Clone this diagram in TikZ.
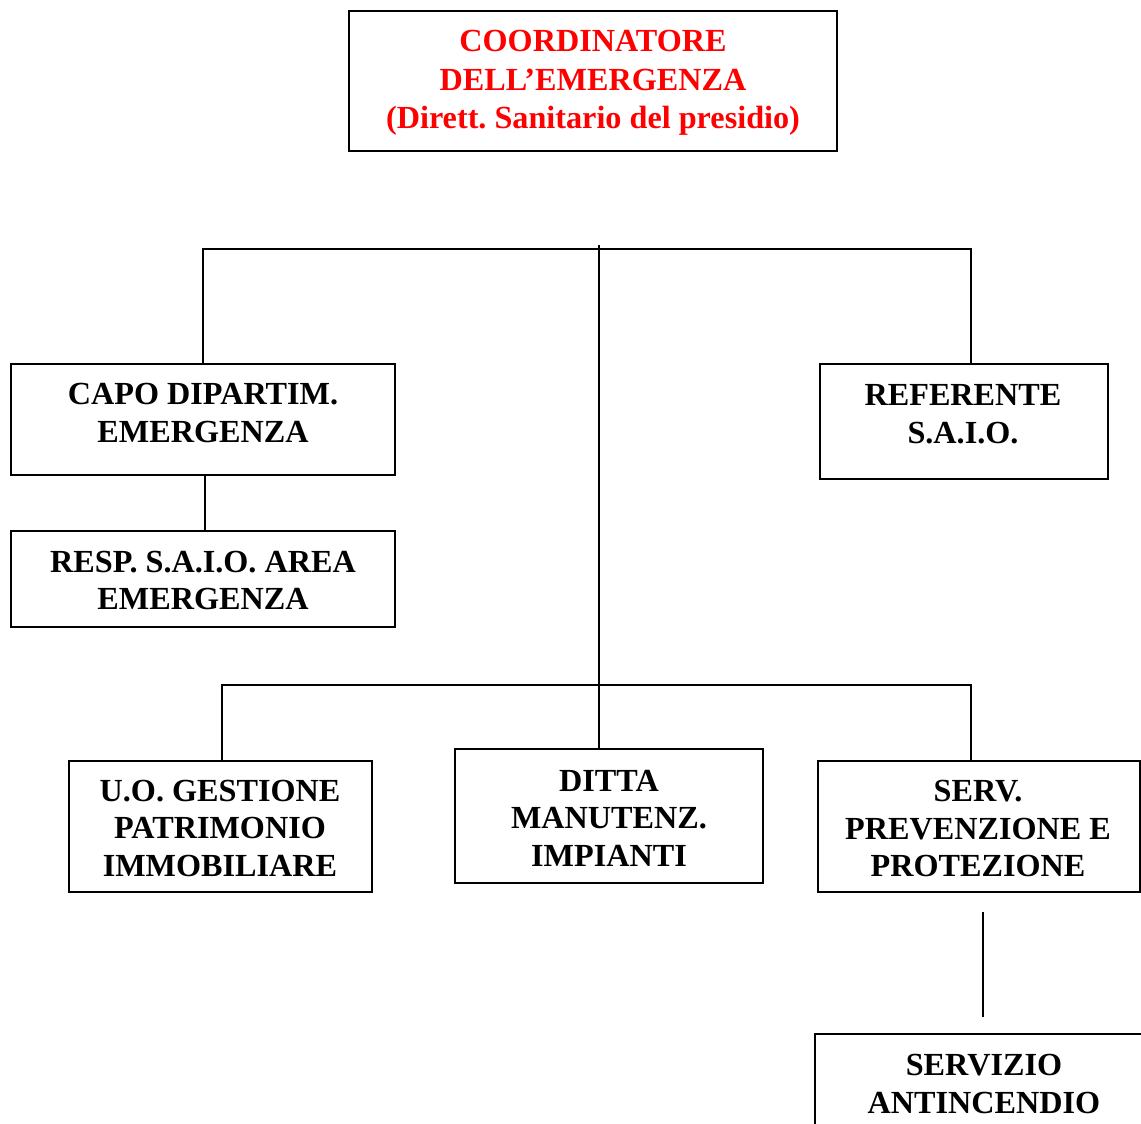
\documentclass[tikz,border=0pt]{standalone}
\usepackage{fontspec}
\setmainfont{Liberation Serif}
\definecolor{titlered}{RGB}{255,0,0}
\frenchspacing
\begin{document}
\begin{tikzpicture}[x=1pt,y=-1pt,
  box/.style={draw=black,line width=1.6pt,rectangle,inner sep=0pt,fill=none},
  lbl/.style={inner sep=0pt,align=center,font=\fontsize{32.2}{37.5}\selectfont\bfseries},
  conn/.style={draw=black,line width=1.3pt}]
\useasboundingbox (0,0) rectangle (1141,1124);
\clip (0,0) rectangle (1141,1124);
% boxes
\node[box,minimum width=488pt,minimum height=140pt] (coord) at (593,81) {};
\node[box,minimum width=384pt,minimum height=111pt] (capo) at (203,419.5) {};
\node[box,minimum width=384pt,minimum height=96pt] (resp) at (203,579) {};
\node[box,minimum width=288pt,minimum height=115pt] (ref) at (964,421.5) {};
\node[box,minimum width=303pt,minimum height=131pt] (uo) at (220.5,826.5) {};
\node[box,minimum width=308pt,minimum height=134pt] (ditta) at (609,816) {};
\node[box,minimum width=322pt,minimum height=131pt] (serv) at (979,826.5) {};
\node[box,minimum width=340pt,minimum height=140pt] (anti) at (985,1104) {};
% texts
\node[lbl,text=titlered,font=\fontsize{32.2}{38.5}\selectfont\bfseries] (coordT) at (593,83) {COORDINATORE\\DELL’EMERGENZA\\(Dirett. Sanitario del presidio)};
\node[lbl] (capoT) at (203,413) {CAPO DIPARTIM.\\EMERGENZA};
\node[lbl] (respT) at (203,580.5) {RESP. S.A.I.O. AREA\\EMERGENZA};
\node[lbl] (refT) at (963,414) {REFERENTE\\S.A.I.O.};
\node[lbl] (uoT) at (220,828) {U.O. GESTIONE\\PATRIMONIO\\IMMOBILIARE};
\node[lbl] (dittaT) at (609,818) {DITTA\\MANUTENZ.\\IMPIANTI};
\node[lbl] (servT) at (978,828.5) {SERV.\\PREVENZIONE E\\PROTEZIONE};
\node[lbl] (antiT) at (984,1084) {SERVIZIO\\ANTINCENDIO};
% junction coordinates
\coordinate (jtop) at (599,245);
\coordinate (tl) at (203,249);
\coordinate (tr) at (971,249);
\coordinate (cr) at (205,0);
\coordinate (bl) at (222,685);
\coordinate (br) at (971,685);
\coordinate (s1) at (983,912);
\coordinate (s2) at (983,1017);
% connectors
\draw[conn] (tl |- capo.north) -- (tl) -- (tr) -- (tr |- ref.north);
\draw[conn] (jtop) -- (jtop |- ditta.north);
\draw[conn] (cr |- capo.south) -- (cr |- resp.north);
\draw[conn] (bl |- uo.north) -- (bl) -- (br) -- (br |- serv.north);
\draw[conn] (s1) -- (s2);
\end{tikzpicture}
\end{document}
